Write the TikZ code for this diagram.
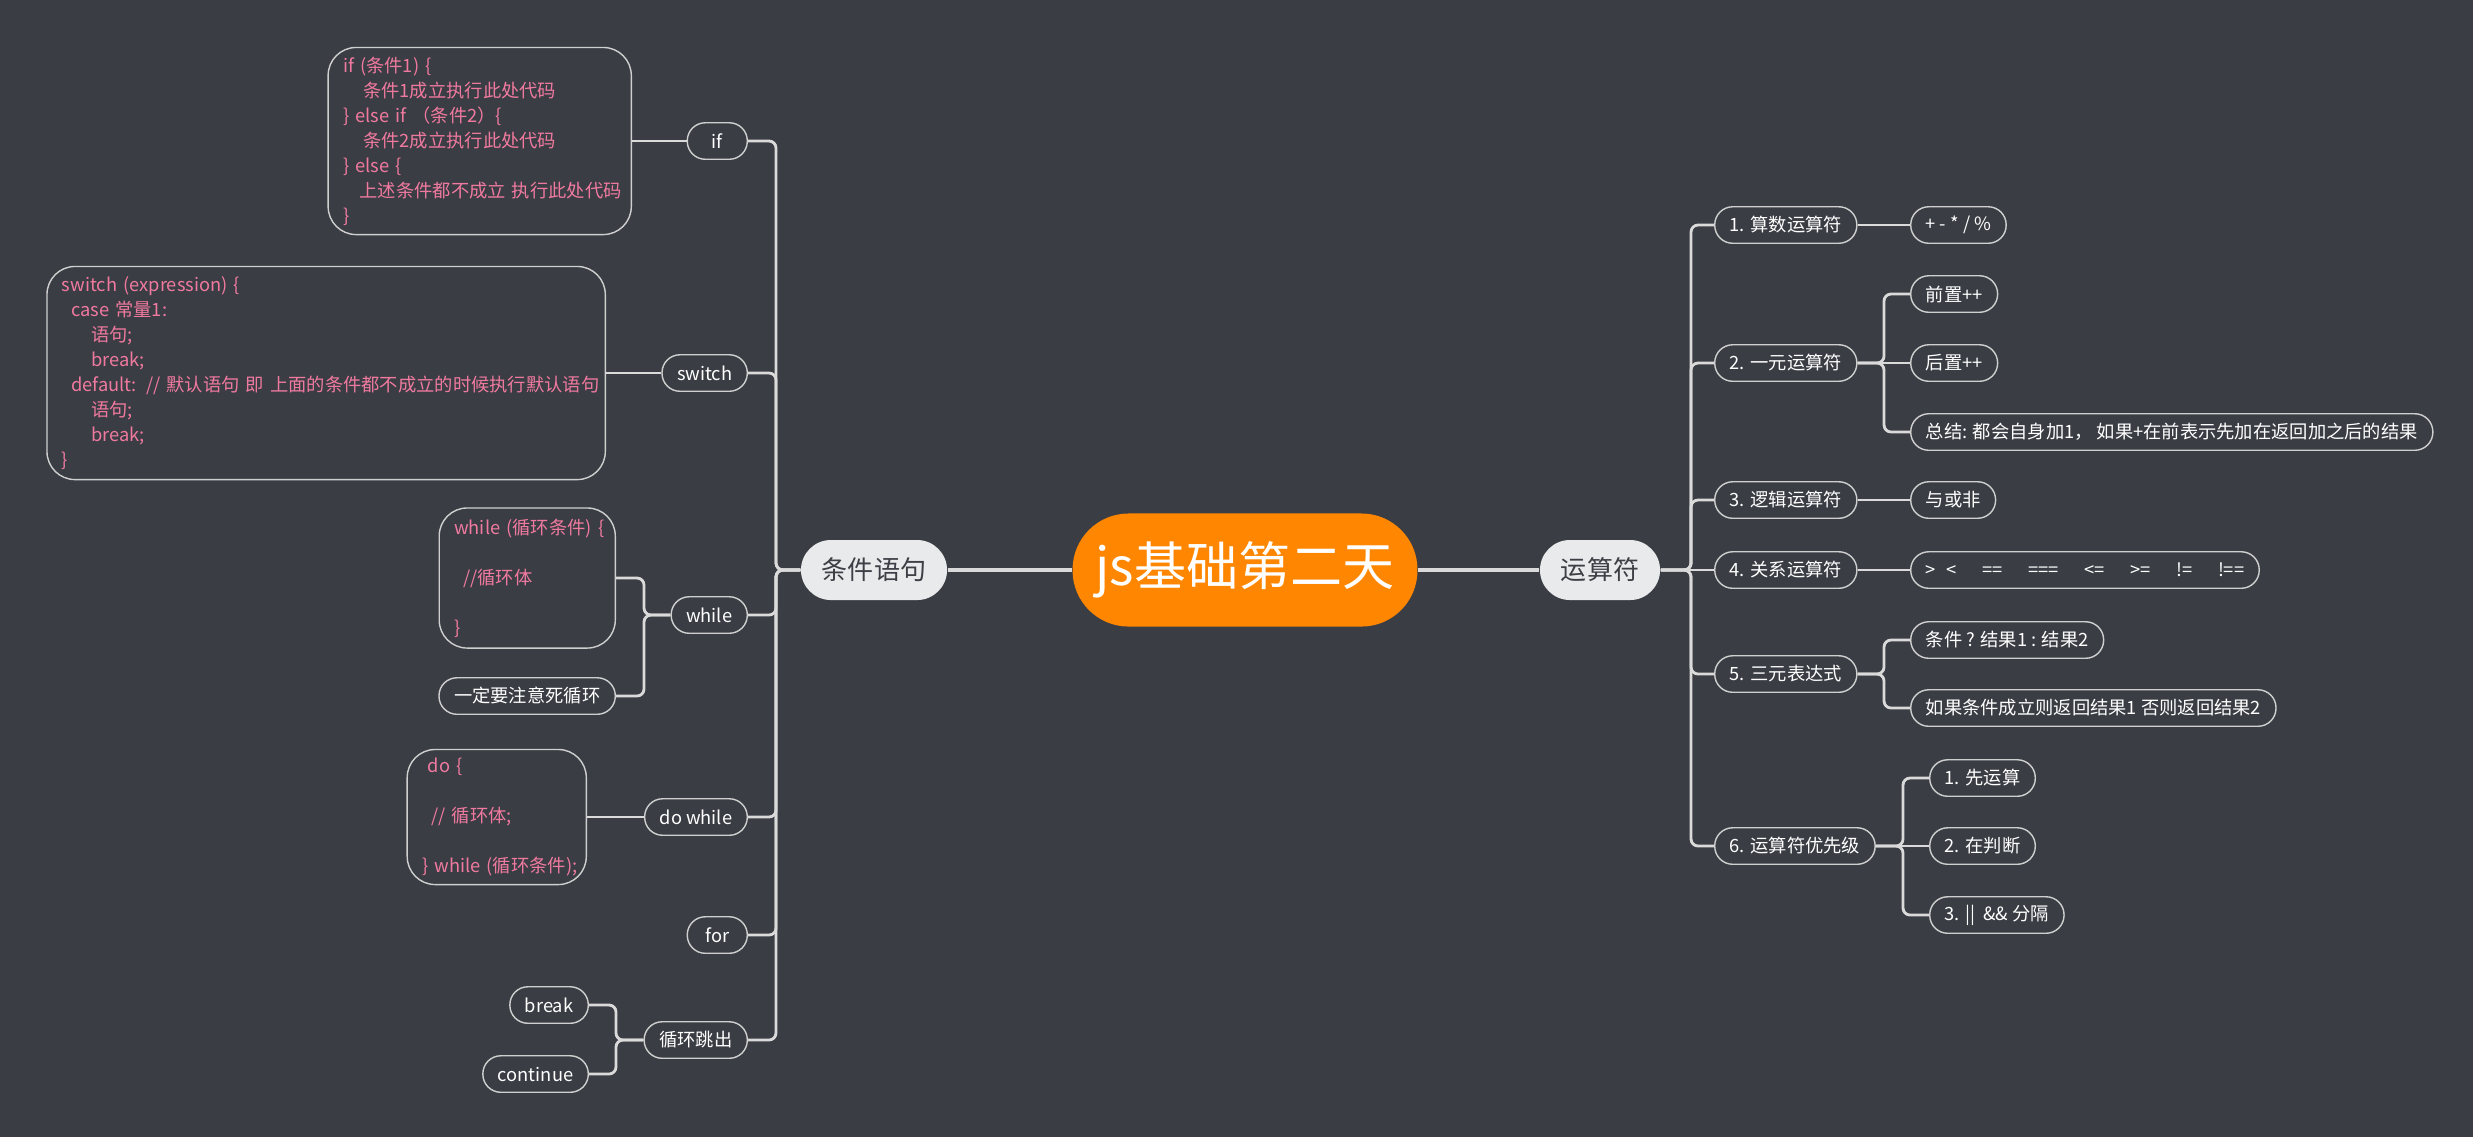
\documentclass[tikz,border=0pt]{standalone}
\usepackage{fontspec}
\setmainfont{Noto Sans CJK SC}
\usetikzlibrary{positioning}
\definecolor{bgdark}{HTML}{3A3D43}
\definecolor{linegray}{HTML}{DADADA}
\definecolor{rimgray}{HTML}{CFCFCF}
\definecolor{rootorange}{HTML}{FF8600}
\definecolor{mainfill}{HTML}{E9EAEB}
\definecolor{maintext}{HTML}{3C3F45}
\definecolor{codepink}{HTML}{F07A9F}
\tikzset{
  % Base styles
  map base/.style={
    x=0.01cm, y=-0.01cm,
    every node/.style={font=\fontsize{5.2pt}{7.1pt}\selectfont, text=white},
  },
  % Mind map nodes
  root node/.style={rectangle, rounded corners=0.56cm, fill=rootorange, minimum height=1.13cm, inner xsep=0.23cm, font=\fontsize{14.8pt}{16pt}\selectfont},
  main node/.style={rectangle, rounded corners=0.3cm, fill=mainfill, text=maintext, minimum height=0.6cm, inner xsep=0.21cm, font=\fontsize{7.4pt}{8pt}\selectfont},
  topic node/.style={rectangle, rounded corners=0.18cm, draw=rimgray, line width=0.4pt, minimum height=0.365cm, minimum width=0.6cm, inner xsep=0.15cm, inner ysep=0pt},
  % Code boxes
  code node/.style={rectangle, rounded corners=0.28cm, draw=rimgray, line width=0.4pt, text=codepink, align=left, inner xsep=0.15cm, inner ysep=0.05cm},
  % Connectors
  trunk/.style={draw=linegray, line width=1pt},
  branch/.style={draw=linegray, line width=0.8pt, rounded corners=0.07cm},
}

\begin{document}
\begin{tikzpicture}[map base]
  \fill[white] (0,0) rectangle (2489,1144);
  \fill[bgdark] (0,0) rectangle (2473,1137);
  \useasboundingbox (0,0) rectangle (2489,1144);

  \node[root node] (root) at (1245,570) {js基础第二天};
  \node[main node, left=1.24cm of root] (cond) {条件语句};
  \node[main node, right=1.21cm of root] (ops) {运算符};

  % left branch
  \node[topic node, anchor=east] (kif) at (748,141) {if};
  \node[topic node, anchor=east] (kswitch) at (748,373) {switch};
  \node[topic node, anchor=east] (kwhile) at (748,615) {while};
  \node[topic node, anchor=east] (kdo) at (748,817) {do while};
  \node[topic node, anchor=east] (kfor) at (748,935) {for};
  \node[topic node, anchor=east] (kjump) at (748,1040) {循环跳出};

  \node[code node, anchor=east, text width=2.73cm, minimum height=1.87cm] (cif) at (632,141) {%
    if (条件1) \{\\
    \hspace*{1.1em}条件1成立执行此处代码\\
    \} else if （条件2）\{\\
    \hspace*{1.1em}条件2成立执行此处代码\\
    \} else \{\\
    \hspace*{0.9em}\mbox{上述条件都不成立 执行此处代码}\\
    \}};
  \node[code node, anchor=east, text width=5.28cm, minimum height=2.13cm] (cswitch) at (606,373) {%
    switch (expression) \{\\
    \hspace*{0.5em}case 常量1:\\
    \hspace*{1.6em}语句;\\
    \hspace*{1.6em}break;\\
    \hspace*{0.5em}\mbox{default: // 默认语句 即 上面的条件都不成立的时候执行默认语句}\\
    \hspace*{1.6em}语句;\\
    \hspace*{1.6em}break;\\
    \}};
  \node[code node, anchor=east, text width=1.46cm, minimum height=1.4cm] (cwhile) at (616,578) {%
    \mbox{while (循环条件) \{}\\[0.25cm]
    \hspace*{0.5em}//循环体\\[0.25cm]
    \}};
  \node[topic node, anchor=east] (cwarn) at (616,696) {一定要注意死循环};
  \node[code node, anchor=east, text width=1.49cm, minimum height=1.35cm] (cdo) at (587,817) {%
    \hspace*{0.3em}do \{\\[0.25cm]
    \hspace*{0.5em}// 循环体;\\[0.25cm]
    \mbox{\} while (循环条件);}};
  \node[topic node, anchor=east] (cbreak) at (589,1005) {break};
  \node[topic node, anchor=east] (ccont) at (589,1074) {continue};

  % right branch
  \node[topic node, anchor=west] (o1) at (1714,225) {1. 算数运算符};
  \node[topic node, anchor=west] (o2) at (1714,363) {2. 一元运算符};
  \node[topic node, anchor=west] (o3) at (1714,500) {3. 逻辑运算符};
  \node[topic node, anchor=west] (o4) at (1714,570) {4. 关系运算符};
  \node[topic node, anchor=west] (o5) at (1714,674) {5. 三元表达式};
  \node[topic node, anchor=west] (o6) at (1714,846) {6. 运算符优先级};

  \node[topic node, anchor=west] (o1a) at (1910,225) {+ - * / \%};
  \node[topic node, anchor=west] (o2a) at (1910,294) {前置++};
  \node[topic node, anchor=west] (o2b) at (1910,363) {后置++};
  \node[topic node, anchor=west] (o2c) at (1910,432) {总结: 都会自身加1， 如果+在前表示先加在返回加之后的结果};
  \node[topic node, anchor=west] (o3a) at (1910,500) {与或非};
  \node[topic node, anchor=west] (o4a) at (1910,570) {>\hspace{0.6em}<\hspace{1.4em}==\hspace{1.4em}===\hspace{1.4em}<=\hspace{1.4em}>=\hspace{1.4em}!=\hspace{1.4em}!==};
  \node[topic node, anchor=west] (o5a) at (1910,640) {条件 ? 结果1 : 结果2};
  \node[topic node, anchor=west] (o5b) at (1910,708) {如果条件成立则返回结果1 否则返回结果2};
  \node[topic node, anchor=west] (o6a) at (1929,778) {1. 先运算};
  \node[topic node, anchor=west] (o6b) at (1929,846) {2. 在判断};
  \node[topic node, anchor=west] (o6c) at (1929,915) {3. ||\ \ \&\& 分隔};

  \draw[trunk] (root) -- (cond);
  \draw[trunk] (root) -- (ops);

  \coordinate (spine left) at (776,570);
  \foreach \k in {kif,kswitch,kwhile,kdo,kfor,kjump}
    \draw[branch] (cond.west) -- (spine left) |- (\k.east);
  \draw[branch] (kif) -- (cif);
  \draw[branch] (kswitch) -- (cswitch);
  \coordinate (fork while) at (644,615);
  \foreach \c in {cwhile,cwarn}
    \draw[branch] (kwhile.west) -- (fork while) |- (\c.east);
  \draw[branch] (kdo) -- (cdo);
  \coordinate (fork jump) at (616,1040);
  \foreach \c in {cbreak,ccont}
    \draw[branch] (kjump.west) -- (fork jump) |- (\c.east);

  \coordinate (spine right) at (1691,570);
  \foreach \o in {o1,o2,o3,o5,o6}
    \draw[branch] (ops.east) -- (spine right) |- (\o.west);
  \draw[branch] (ops) -- (o4);
  \draw[branch] (o1) -- (o1a);
  \coordinate (fork two) at (1884,363);
  \foreach \c in {o2a,o2c}
    \draw[branch] (o2.east) -- (fork two) |- (\c.west);
  \draw[branch] (o2) -- (o2b);
  \draw[branch] (o3) -- (o3a);
  \draw[branch] (o4) -- (o4a);
  \coordinate (fork five) at (1884,674);
  \foreach \c in {o5a,o5b}
    \draw[branch] (o5.east) -- (fork five) |- (\c.west);
  \coordinate (fork six) at (1903,846);
  \foreach \c in {o6a,o6c}
    \draw[branch] (o6.east) -- (fork six) |- (\c.west);
  \draw[branch] (o6) -- (o6b);
\end{tikzpicture}
\end{document}
